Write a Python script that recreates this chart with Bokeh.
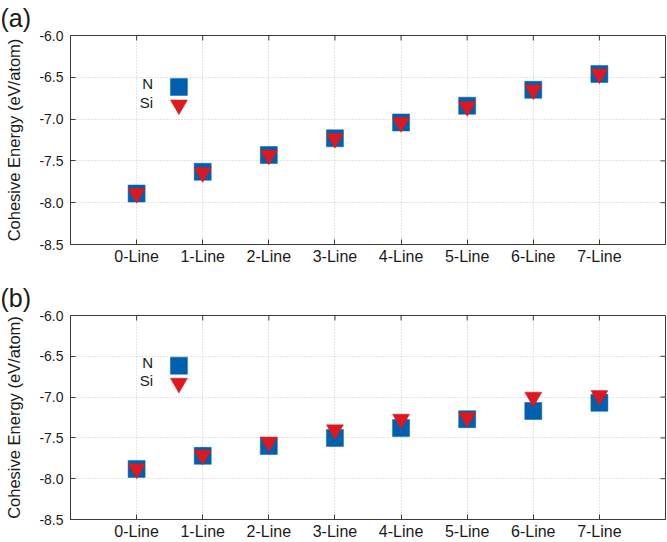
from bokeh.plotting import figure
from bokeh.layouts import column
from bokeh.models import (Range1d, FixedTicker, Label, ColumnDataSource,
                          PrintfTickFormatter)
from bokeh.embed import file_html
from bokeh.resources import INLINE

# ---------------- data ----------------
categories = ["0-Line", "1-Line", "2-Line", "3-Line", "4-Line", "5-Line", "6-Line", "7-Line"]

a_N = [-7.89, -7.63, -7.43, -7.23, -7.04, -6.84, -6.65, -6.46]
a_Si = [-7.89, -7.64, -7.43, -7.23, -7.04, -6.85, -6.65, -6.46]

b_N = [-7.88, -7.72, -7.60, -7.50, -7.38, -7.27, -7.17, -7.07]
b_Si = [-7.88, -7.71, -7.55, -7.40, -7.27, -7.25, -7.00, -6.98]

y_ticks = [-8.5, -8.0, -7.5, -7.0, -6.5, -6.0]
series_names = ["N", "Si"]
panel_tags = ["(a)", "(b)"]
y_title = "Cohesive Energy (eV/atom)"

# legend key placement (data units of the panel)
LEG_KEY_X = 0.64
LEG_TEXT_X = 0.25
LEG_Y = [-6.615, -6.83]
LEG_TEXT_Y = [-6.57, -6.80]

X_START, X_END = -1, 8
Y_START, Y_END = -8.5, -6.0

BLUE = "#0060ad"
RED = "#dd181f"
FONT = "Liberation Sans"
FRAME_COL = "#3a3a3a"
TEXT_COL = "#1a1a1a"
TICK_PX = 5


def make_panel(tag, n_vals, si_vals, top, frame_h, bottom):
    xs = list(range(len(categories)))
    width = 667
    left, right = 70, 2
    p = figure(width=width, height=top + frame_h + bottom,
               x_range=Range1d(X_START, X_END), y_range=Range1d(Y_START, Y_END),
               output_backend="svg", toolbar_location=None,
               min_border_left=left, min_border_right=right,
               min_border_top=top, min_border_bottom=bottom)
    p.background_fill_color = "white"
    p.border_fill_color = "white"
    p.outline_line_color = FRAME_COL
    p.outline_line_width = 1

    p.title.text = tag
    p.title.text_font = FONT
    p.title.text_font_size = "25px"
    p.title.text_font_style = "normal"
    p.title.text_color = TEXT_COL
    p.title.align = "left"
    p.title.vertical_align = "top"
    p.title.offset = -70
    p.title.standoff = 4

    # grid
    p.xgrid.ticker = FixedTicker(ticks=xs)
    p.ygrid.ticker = FixedTicker(ticks=y_ticks)
    for g in (p.xgrid, p.ygrid):
        g.grid_line_color = "#c8c8c8"
        g.grid_line_dash = "1 2"
        g.grid_line_width = 1

    # x axis
    xa = p.xaxis[0]
    xa.ticker = FixedTicker(ticks=xs)
    xa.major_label_overrides = {i: c for i, c in enumerate(categories)}
    xa.major_label_text_font = FONT
    xa.major_label_text_font_size = "16px"
    xa.major_label_text_color = TEXT_COL
    xa.major_label_standoff = 3
    xa.major_tick_in = TICK_PX
    xa.major_tick_out = 0
    xa.minor_tick_in = 0
    xa.minor_tick_out = 0
    xa.axis_line_color = FRAME_COL
    xa.major_tick_line_color = FRAME_COL

    # y axis
    ya = p.yaxis[0]
    ya.ticker = FixedTicker(ticks=y_ticks)
    ya.formatter = PrintfTickFormatter(format="%.1f")
    ya.major_label_text_font = FONT
    ya.major_label_text_font_size = "14px"
    ya.major_label_text_color = TEXT_COL
    ya.major_label_standoff = 7
    ya.major_tick_in = TICK_PX
    ya.major_tick_out = 0
    ya.minor_tick_in = 0
    ya.minor_tick_out = 0
    ya.axis_line_color = FRAME_COL
    ya.major_tick_line_color = FRAME_COL
    ya.axis_label = y_title
    ya.axis_label_text_font = FONT
    ya.axis_label_text_font_size = "16.5px"
    ya.axis_label_text_font_style = "normal"
    ya.axis_label_text_color = TEXT_COL
    ya.axis_label_standoff = 13

    # mirrored inner ticks on the right and top edges of the box
    frame_w = width - left - right
    dx = TICK_PX * (X_END - X_START) / frame_w
    dy = TICK_PX * (Y_END - Y_START) / frame_h
    p.segment(x0=[X_END] * len(y_ticks), y0=y_ticks,
              x1=[X_END - dx] * len(y_ticks), y1=y_ticks,
              line_color=FRAME_COL, line_width=1)
    p.segment(x0=xs, y0=[Y_END] * len(xs), x1=xs, y1=[Y_END - dy] * len(xs),
              line_color=FRAME_COL, line_width=1)

    src = ColumnDataSource(data=dict(x=xs, n=n_vals, si=si_vals))
    p.scatter("x", "n", source=src, marker="square", size=17,
              fill_color=BLUE, line_color=BLUE, line_width=0.5)
    p.scatter("x", "si", source=src, marker="inverted_triangle", size=17,
              fill_color=RED, line_color=RED, line_width=0.5)

    # legend (text to the left of its key)
    p.scatter([LEG_KEY_X], [LEG_Y[0]], marker="square", size=17,
              fill_color=BLUE, line_color=BLUE, line_width=0.5)
    p.scatter([LEG_KEY_X], [LEG_Y[1]], marker="inverted_triangle", size=17,
              fill_color=RED, line_color=RED, line_width=0.5)
    for name, ty in zip(series_names, LEG_TEXT_Y):
        p.add_layout(Label(x=LEG_TEXT_X, y=ty, text=name, text_align="right",
                           text_baseline="middle", text_font=FONT,
                           text_font_size="15px", text_color=TEXT_COL))
    return p


pa = make_panel(panel_tags[0], a_N, a_Si, top=35, frame_h=209, bottom=36)
pb = make_panel(panel_tags[1], b_N, b_Si, top=35, frame_h=207, bottom=20)

layout = column(pa, pb, spacing=0)
open("out.html", "w").write(file_html(layout, INLINE))
